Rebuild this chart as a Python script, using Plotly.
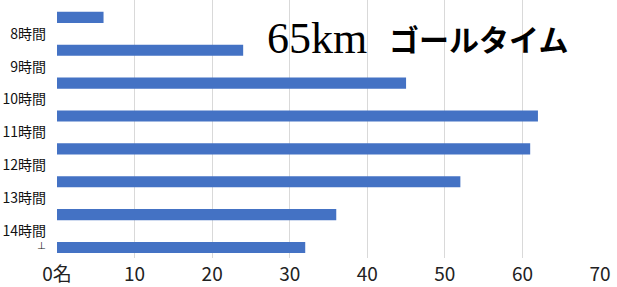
import plotly.graph_objects as go

# Data
bar_positions = [1, 2, 3, 4, 5, 6, 7, 8]
values = [6, 24, 45, 62, 61, 52, 36, 32]
tick_positions = [1.5, 2.5, 3.5, 4.5, 5.5, 6.5, 7.5, 7.9]
tick_labels = ["8時間", "9時間", "10時間", "11時間", "12時間", "13時間", "14時間",
               "<span style='font-size:9px'>⊥</span>"]
x_ticks = [0, 10, 20, 30, 40, 50, 60, 70]
x_labels = ["0名", "10", "20", "30", "40", "50", "60", "70"]
title_num = "65km"
title_kana = "ゴールタイム"

fig = go.Figure(go.Bar(
    x=values, y=bar_positions, orientation="h",
    marker=dict(color="#4472C4", line=dict(width=0)),
    width=0.34,
))

fig.update_layout(
    width=617, height=287,
    margin=dict(l=57, r=17, t=0, b=29),
    paper_bgcolor="white", plot_bgcolor="white",
    showlegend=False,
    xaxis=dict(range=[0, 70], tickvals=x_ticks, ticktext=x_labels,
               showgrid=True, gridcolor="#d9d9d9", gridwidth=1,
               zeroline=False, showline=False, automargin=False,
               tickfont=dict(family="Noto Sans CJK JP", size=19, color="#222"),
               ticklabelstandoff=3),
    yaxis=dict(range=[8.32, 0.47], tickvals=tick_positions, ticktext=tick_labels,
               showgrid=False, zeroline=False, showline=False, automargin=False,
               tickfont=dict(family="Noto Sans CJK JP", size=14, color="#111"),
               ticklabelstandoff=10),
    shapes=[dict(type="rect", xref="paper", yref="paper", layer="between",
                 x0=(255 - 57) / 543, x1=(582 - 57) / 543,
                 y0=1 - 60 / 258, y1=1 - 12 / 258,
                 fillcolor="white", line=dict(width=0))],
    annotations=[
        dict(text=title_num, xref="paper", yref="paper",
             x=(265 - 57) / 543, y=1 - 38 / 258, xanchor="left", yanchor="middle",
             showarrow=False, font=dict(family="Liberation Serif", size=44, color="black")),
        dict(text=title_kana, xref="paper", yref="paper",
             x=(570 - 57) / 543, y=1 - 38 / 258, xanchor="right", yanchor="middle",
             showarrow=False, font=dict(family="Noto Sans CJK JP", size=30,
                                        weight="bold", color="black")),
    ],
)

fig.write_html("out.html")
